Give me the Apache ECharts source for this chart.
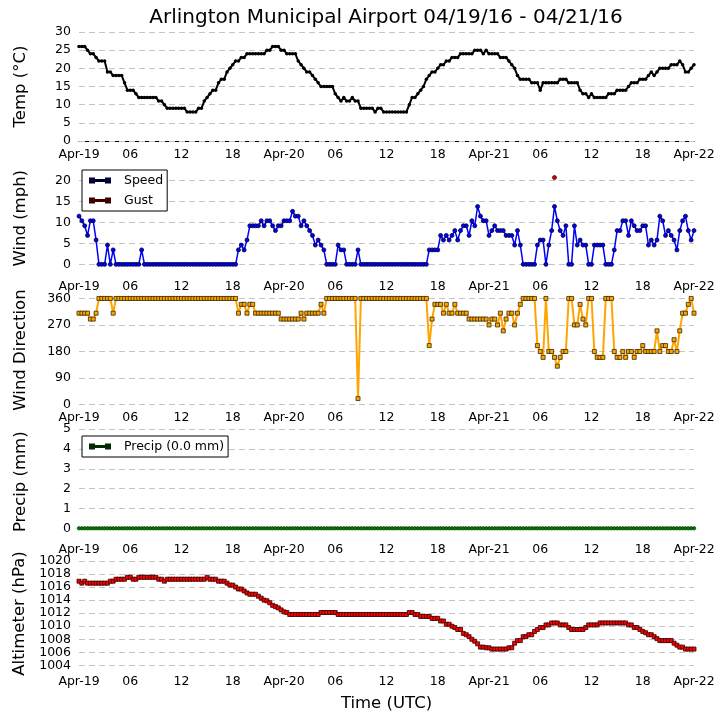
<!DOCTYPE html>
<html><head><meta charset="utf-8">
<script src="https://cdn.jsdelivr.net/npm/echarts@6/dist/echarts.min.js"></script>
<style>html,body{margin:0;padding:0;background:#fff}#c{width:724px;height:725px}</style>
</head><body><div id="c"></div>
<script>
// observations every 20 minutes from Apr-19 00Z to Apr-22 00Z
const stepHours = 1 / 3;
const xTickLabels = ['Apr-19','06','12','18','Apr-20','06','12','18','Apr-21','06','12','18','Apr-22'];
const tempTicks = [0,5,10,15,20,25,30];
const windTicks = [0,5,10,15,20];
const dirTicks = [0,90,180,270,360];
const precipTicks = [0,1,2,3,4,5];
const altTicks = [1004,1006,1008,1010,1012,1014,1016,1018,1020];

const temperature = [
 26,26,26,25,24,24,23,22,22,22,
 19,19,18,18,18,18,16,14,14,14,
 13,12,12,12,12,12,12,12,11,11,
 10,9,9,9,9,9,9,9,8,8,
 8,8,9,9,11,12,13,14,14,16,
 17,17,19,20,21,22,22,23,23,24,
 24,24,24,24,24,24,25,25,26,26,
 26,25,25,24,24,24,24,22,21,20,
 19,19,18,17,16,15,15,15,15,15,
 13,12,11,12,11,11,12,11,11,9,
 9,9,9,9,8,9,9,8,8,8,
 8,8,8,8,8,8,10,12,12,13,
 14,15,17,18,19,19,20,21,21,22,
 22,23,23,23,24,24,24,24,24,25,
 25,25,24,25,24,24,24,24,23,23,
 23,22,21,20,18,17,17,17,17,16,
 16,16,14,16,16,16,16,16,16,17,
 17,17,16,16,16,16,14,13,13,12,
 13,12,12,12,12,12,13,13,13,14,
 14,14,14,15,16,16,16,17,17,17,
 18,19,18,19,20,20,20,20,21,21,
 21,22,21,19,19,20,21
];

const windSpeed = [
 11.5,10.4,9.2,6.9,10.4,10.4,5.8,0,0,0,
 4.6,0,3.45,0,0,0,0,0,0,0,
 0,0,3.45,0,0,0,0,0,0,0,
 0,0,0,0,0,0,0,0,0,0,
 0,0,0,0,0,0,0,0,0,0,
 0,0,0,0,0,0,3.45,4.6,3.45,5.8,
 9.2,9.2,9.2,9.2,10.4,9.2,10.4,10.4,9.2,8.05,
 9.2,9.2,10.4,10.4,10.4,12.65,11.5,11.5,9.2,10.4,
 9.2,8.05,6.9,4.6,5.8,4.6,3.45,0,0,0,
 0,4.6,3.45,3.45,0,0,0,0,3.45,0,
 0,0,0,0,0,0,0,0,0,0,
 0,0,0,0,0,0,0,0,0,0,
 0,0,0,3.45,3.45,3.45,3.45,6.9,5.8,6.9,
 5.8,6.9,8.05,5.8,8.05,9.2,9.2,6.9,10.4,9.2,
 13.8,11.5,10.4,10.4,6.9,8.05,9.2,8.05,8.05,8.05,
 6.9,6.9,6.9,4.6,8.05,4.6,0,0,0,0,
 0,4.6,5.8,5.8,0,4.6,8.05,13.8,10.4,8.05,
 6.9,9.2,0,0,9.2,4.6,5.8,4.6,4.6,0,
 0,4.6,4.6,4.6,4.6,0,0,0,3.45,8.05,
 8.05,10.4,10.4,6.9,10.4,9.2,8.05,8.05,9.2,9.2,
 4.6,5.8,4.6,5.8,11.5,10.4,6.9,8.05,6.9,5.8,
 3.45,8.05,10.4,11.5,8.05,5.8,8.05
];

// [observation index, gust mph]
const windGust = [[167, 20.7]];

const windDirection = [
 310,310,310,310,290,290,310,360,360,360,
 360,360,310,360,360,360,360,360,360,360,
 360,360,360,360,360,360,360,360,360,360,
 360,360,360,360,360,360,360,360,360,360,
 360,360,360,360,360,360,360,360,360,360,
 360,360,360,360,360,360,310,340,340,310,
 340,340,310,310,310,310,310,310,310,310,
 310,290,290,290,290,290,290,290,310,290,
 310,310,310,310,310,340,310,360,360,360,
 360,360,360,360,360,360,360,360,20,360,
 360,360,360,360,360,360,360,360,360,360,
 360,360,360,360,360,360,360,360,360,360,
 360,360,360,200,290,340,340,340,310,340,
 310,310,340,310,310,310,310,290,290,290,
 290,290,290,290,270,290,290,270,310,250,
 290,310,310,270,310,340,360,360,360,360,
 360,200,180,160,360,180,180,160,130,160,
 180,180,360,360,270,270,340,290,270,360,
 360,180,160,160,160,360,360,360,180,160,
 160,180,160,180,180,160,180,180,200,180,
 180,180,180,250,180,200,200,180,180,220,
 180,250,310,310,340,360,310
];

const precip = [
 0,0,0,0,0,0,0,0,0,0, 0,0,0,0,0,0,0,0,0,0,
 0,0,0,0,0,0,0,0,0,0, 0,0,0,0,0,0,0,0,0,0,
 0,0,0,0,0,0,0,0,0,0, 0,0,0,0,0,0,0,0,0,0,
 0,0,0,0,0,0,0,0,0,0, 0,0,0,0,0,0,0,0,0,0,
 0,0,0,0,0,0,0,0,0,0, 0,0,0,0,0,0,0,0,0,0,
 0,0,0,0,0,0,0,0,0,0, 0,0,0,0,0,0,0,0,0,0,
 0,0,0,0,0,0,0,0,0,0, 0,0,0,0,0,0,0,0,0,0,
 0,0,0,0,0,0,0,0,0,0, 0,0,0,0,0,0,0,0,0,0,
 0,0,0,0,0,0,0,0,0,0, 0,0,0,0,0,0,0,0,0,0,
 0,0,0,0,0,0,0,0,0,0, 0,0,0,0,0,0,0,0,0,0,
 0,0,0,0,0,0,0,0,0,0, 0,0,0,0,0,0,0
];

const altimeter = [
 1016.9,1016.6,1016.9,1016.6,1016.6,1016.6,1016.6,1016.6,1016.6,1016.6,
 1016.6,1016.9,1016.9,1017.2,1017.2,1017.2,1017.2,1017.5,1017.5,1017.2,
 1017.2,1017.5,1017.5,1017.5,1017.5,1017.5,1017.5,1017.5,1017.2,1017.2,
 1016.9,1017.2,1017.2,1017.2,1017.2,1017.2,1017.2,1017.2,1017.2,1017.2,
 1017.2,1017.2,1017.2,1017.2,1017.2,1017.5,1017.2,1017.2,1017.2,1016.9,
 1016.9,1016.9,1016.6,1016.3,1016.3,1016.0,1015.7,1015.7,1015.4,1015.1,
 1014.9,1014.9,1014.9,1014.6,1014.3,1014.0,1013.9,1013.6,1013.2,1013.0,
 1012.8,1012.5,1012.2,1012.1,1011.8,1011.8,1011.8,1011.8,1011.8,1011.8,
 1011.8,1011.8,1011.8,1011.8,1011.8,1012.1,1012.1,1012.1,1012.1,1012.1,
 1012.1,1011.8,1011.8,1011.8,1011.8,1011.8,1011.8,1011.8,1011.8,1011.8,
 1011.8,1011.8,1011.8,1011.8,1011.8,1011.8,1011.8,1011.8,1011.8,1011.8,
 1011.8,1011.8,1011.8,1011.8,1011.8,1011.8,1012.1,1012.1,1011.8,1011.8,
 1011.5,1011.5,1011.5,1011.5,1011.2,1011.2,1011.2,1010.8,1010.8,1010.3,
 1010.3,1010.0,1009.8,1009.5,1009.5,1008.9,1008.7,1008.4,1008.0,1007.7,
 1007.3,1006.8,1006.8,1006.7,1006.7,1006.5,1006.5,1006.5,1006.5,1006.5,
 1006.5,1006.7,1006.7,1007.4,1007.8,1007.8,1008.4,1008.4,1008.7,1008.7,
 1009.2,1009.5,1009.8,1009.8,1010.2,1010.2,1010.5,1010.5,1010.5,1010.2,
 1010.2,1010.2,1009.8,1009.5,1009.5,1009.5,1009.5,1009.5,1009.8,1010.2,
 1010.2,1010.2,1010.2,1010.5,1010.5,1010.5,1010.5,1010.5,1010.5,1010.5,
 1010.5,1010.5,1010.5,1010.2,1010.2,1009.8,1009.8,1009.5,1009.2,1009.0,
 1008.7,1008.7,1008.4,1008.1,1007.8,1007.8,1007.8,1007.8,1007.8,1007.4,
 1007.1,1006.8,1006.8,1006.5,1006.5,1006.5,1006.5
];

const FONT = 'DejaVu Sans';
const toPairs = arr => arr.map((v, i) => [i * stepHours, v]);
const gustPairs = windGust.map(([i, v]) => [i * stepHours, v]);

const panelTops = [32, 163.75, 295.5, 427.25, 559];
const panelHeight = 109;
const grids = panelTops.map(t => ({left: 79, width: 615, top: t, height: panelHeight, containLabel: false}));

const xAxes = panelTops.map((t, k) => ({
  gridIndex: k, type: 'value', min: 0, max: 72, interval: 6,
  axisLine: {show: k === 0, onZero: false, lineStyle: {color: '#000', width: 1}},
  axisTick: {show: false}, splitLine: {show: false},
  axisLabel: {formatter: v => xTickLabels[Math.round(v / 6)], fontSize: 12.5, color: '#000', margin: 7, fontFamily: FONT},
  name: k === 4 ? 'Time (UTC)' : '', nameLocation: 'middle', nameGap: 27,
  nameTextStyle: {fontSize: 16.5, color: '#000', fontFamily: FONT}
}));

const yCfg = [
  {name: 'Temp (°C)', min: 0, max: 30, ticks: tempTicks},
  {name: 'Wind (mph)', min: -2, max: 24, ticks: windTicks},
  {name: 'Wind Direction', min: 0, max: 370, ticks: dirTicks},
  {name: 'Precip (mm)', min: -0.4, max: 5.1, ticks: precipTicks},
  {name: 'Altimeter (hPa)', min: 1003.6, max: 1020.3, ticks: altTicks}
];
const yAxes = yCfg.map((c, k) => ({
  gridIndex: k, type: 'value', min: c.min, max: c.max,
  axisLine: {show: false},
  axisTick: {show: false},
  axisLabel: {customValues: c.ticks, formatter: v => String(v), fontSize: 12.5, color: '#000', margin: 8, fontFamily: FONT},
  splitLine: {show: false},
  name: c.name, nameLocation: 'middle', nameGap: 50,
  nameTextStyle: {fontSize: 16.5, color: '#000', fontFamily: FONT}
}));

// dashed horizontal gridlines at the tick values of each panel
const gridSeries = yCfg.map((c, k) => ({
  type: 'line', name: 'grid' + k, xAxisIndex: k, yAxisIndex: k, data: [], silent: true, z: 1,
  markLine: {
    silent: true, symbol: ['none', 'none'], animation: false, z: 1,
    label: {show: false},
    lineStyle: {color: '#c4c4c4', width: 1, type: [6, 4]},
    emphasis: {disabled: true},
    data: c.ticks.map(v => ({yAxis: v}))
  }
}));

const iconPath = 'path://M0,0h4v4h-4z M2,1.5h16v1h-16z M16,0h4v4h-4z';
const legendBase = {
  orient: 'vertical', left: 82, selectedMode: false, z: 20,
  backgroundColor: '#fff', borderColor: '#000', borderWidth: 1, borderRadius: 0,
  padding: [3, 4, 3, 7], itemWidth: 20, itemHeight: 4, itemGap: 5, icon: iconPath,
  textStyle: {fontSize: 12.5, color: '#000', fontFamily: FONT, lineHeight: 15, padding: [0, 0, 0, 9]}
};

const option = {
  animation: false,
  backgroundColor: '#fff',
  textStyle: {fontFamily: FONT},
  title: {
    text: 'Arlington Municipal Airport 04/19/16 - 04/21/16',
    left: 386, top: 8, textAlign: 'center', padding: 0,
    textStyle: {fontSize: 20, fontWeight: 'normal', color: '#000', fontFamily: FONT}
  },
  legend: [
    Object.assign({}, legendBase, {top: 170, data: ['Speed', 'Gust']}),
    Object.assign({}, legendBase, {top: 436, data: ['Precip (0.0 mm)']})
  ],
  grid: grids, xAxis: xAxes, yAxis: yAxes,
  series: gridSeries.concat([
    {type: 'line', name: 'Temp', xAxisIndex: 0, yAxisIndex: 0, data: toPairs(temperature),
     symbol: 'circle', symbolSize: 3.5, silent: true, z: 3,
     lineStyle: {color: '#000', width: 2}, itemStyle: {color: '#000'}},
    {type: 'line', name: 'Speed', xAxisIndex: 1, yAxisIndex: 1, data: toPairs(windSpeed),
     symbol: 'circle', symbolSize: 4, silent: true, z: 3,
     lineStyle: {color: '#0000ff', width: 1.5}, itemStyle: {color: '#0000ff', borderColor: '#000033', borderWidth: 0.8}},
    {type: 'line', name: 'Gust', xAxisIndex: 1, yAxisIndex: 1, data: gustPairs,
     symbol: 'circle', symbolSize: 4, silent: true, z: 4,
     lineStyle: {color: '#ff0000', width: 1.5}, itemStyle: {color: '#e00000', borderColor: '#400000', borderWidth: 0.8}},
    {type: 'line', name: 'Direction', xAxisIndex: 2, yAxisIndex: 2, data: toPairs(windDirection),
     symbol: 'rect', symbolSize: 4, silent: true, z: 3,
     lineStyle: {color: '#ffa500', width: 2}, itemStyle: {color: '#ffa500', borderColor: '#3a2800', borderWidth: 0.8}},
    {type: 'line', name: 'Precip (0.0 mm)', xAxisIndex: 3, yAxisIndex: 3, data: toPairs(precip),
     symbol: 'circle', symbolSize: 3.5, silent: true, z: 3,
     lineStyle: {color: '#008000', width: 2}, itemStyle: {color: '#008000', borderColor: '#002a00', borderWidth: 0.6}},
    {type: 'line', name: 'Altimeter', xAxisIndex: 4, yAxisIndex: 4, data: toPairs(altimeter),
     symbol: 'rect', symbolSize: 4, silent: true, z: 3,
     lineStyle: {color: '#ff0000', width: 1.5}, itemStyle: {color: '#ff0000', borderColor: '#300000', borderWidth: 0.8}}
  ])
};

const chart = echarts.init(document.getElementById('c'), null, {renderer: 'canvas', width: 724, height: 725});
chart.setOption(option);
</script>
</body></html>
